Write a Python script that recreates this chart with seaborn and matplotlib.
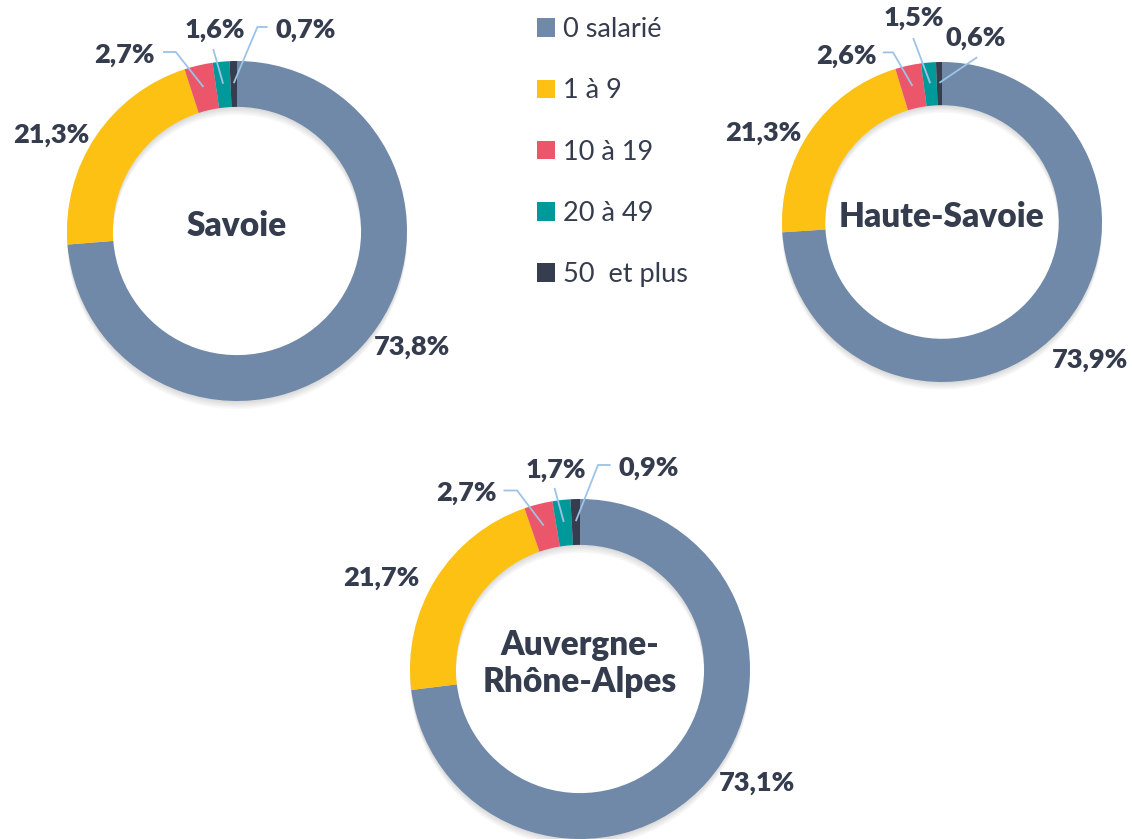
import numpy as np
import pandas as pd
import seaborn as sns
import matplotlib.pyplot as plt
from matplotlib.patches import Wedge

# data
categories = ['0 salarié', '1 à 9', '10 à 19', '20 à 49', '50  et plus']
regions = ['Savoie', 'Haute-Savoie', 'Auvergne-\nRhône-Alpes']
savoie = [73.8, 21.3, 2.7, 1.6, 0.7]
haute_savoie = [73.9, 21.3, 2.6, 1.5, 0.6]
auvergne = [73.1, 21.7, 2.7, 1.7, 0.9]

colors = ['#7089A8', '#FDC113', '#EC566A', '#00999A', '#363D4E']
text_col = '#353C4E'
line_col = '#9DC3E6'

W, H = 1132, 839
PAD = 1.5
RING = 0.27

# layout: (center x px, center y px, radius px), label positions in radius units
layout = {
    'Savoie': dict(c=(237, 231, 170),
                   lab=[(1.03, -0.68), (-1.094, 0.565), (-0.66, 1.035), (-0.13, 1.18), (0.406, 1.18)],
                   lead={2: ((-0.435, 1.053), (-0.36, 1.053)),
                         3: ((-0.14, 1.07), None),
                         4: ((0.18, 1.2), (0.12, 1.2))}),
    'Haute-Savoie': dict(c=(942, 222, 160),
                         lab=[(0.925, -0.86), (-1.115, 0.556), (-0.6, 1.04), (-0.175, 1.275), (0.21, 1.15)],
                         lead={2: ((-0.37, 1.06), (-0.306, 1.06)),
                               3: ((-0.18, 1.15), None),
                               4: ((0.22, 1.03), None)}),
    'Auvergne-\nRhône-Alpes': dict(c=(580, 669, 170),
                                   lab=[(1.04, -0.67), (-1.17, 0.535), (-0.67, 1.035), (-0.14, 1.17), (0.405, 1.18)],
                                   lead={2: ((-0.45, 1.05), (-0.37, 1.05)),
                                         3: ((-0.15, 1.065), None),
                                         4: ((0.18, 1.2), (0.106, 1.2))}),
}


def fmt(v):
    return f'{v:.1f}'.replace('.', ',') + '%'


def donut(fig, name, values):
    cx, cy, r = layout[name]['c']
    s = r * PAD
    ax = fig.add_axes([(cx - s) / W, (H - cy - s) / H, 2 * s / W, 2 * s / H])
    ax.patch.set_alpha(0)

    # soft drop shadow
    for k in range(1, 7):
        ax.add_patch(Wedge((0, -0.008 * k), 1.0, 0, 360, width=RING,
                           facecolor='black', edgecolor='none', alpha=0.025, zorder=0))

    wedges, _ = ax.pie(values, colors=sns.color_palette(colors), startangle=90,
                       counterclock=False, radius=1,
                       wedgeprops=dict(width=RING, edgecolor='none', linewidth=0))
    for w in wedges:
        w.set_zorder(2)
    ax.set_xlim(-PAD, PAD)
    ax.set_ylim(-PAD, PAD)
    ax.set_axis_off()

    for i, (w, v) in enumerate(zip(wedges, values)):
        lx, ly = layout[name]['lab'][i]
        ax.text(lx, ly, fmt(v), ha='center', va='center', fontsize=19.5,
                fontweight='heavy', color=text_col, zorder=5)
        if i in layout[name]['lead']:
            start, elbow = layout[name]['lead'][i]
            ang = np.deg2rad((w.theta1 + w.theta2) / 2)
            end = (0.87 * np.cos(ang), 0.87 * np.sin(ang))
            pts = [start] + ([elbow] if elbow else []) + [end]
            xs, ys = zip(*pts)
            ax.plot(xs, ys, color=line_col, lw=1.3, zorder=4, solid_capstyle='butt')

    ax.text(0, 0.03, name, ha='center', va='center', fontsize=24,
            fontweight='heavy', color=text_col, linespacing=1.2, zorder=5)
    return wedges


def main():
    sns.set_theme(style='white')
    plt.rcParams['font.family'] = ['Lato', 'DejaVu Sans']
    fig = plt.figure(figsize=(W / 100, H / 100), dpi=100)
    fig.patch.set_facecolor('white')

    wedges = donut(fig, regions[0], savoie)
    donut(fig, regions[1], haute_savoie)
    donut(fig, regions[2], auvergne)

    fig.legend(wedges, categories, loc='upper left',
               bbox_to_anchor=(537 / W, 1 - 17 / H), frameon=False,
               fontsize=19.5, labelcolor=text_col, handlelength=0.67, handleheight=0.67,
               handletextpad=0.3, labelspacing=1.34, borderpad=0, borderaxespad=0)

    fig.savefig('out.png', dpi=100)


if __name__ == '__main__':
    main()
